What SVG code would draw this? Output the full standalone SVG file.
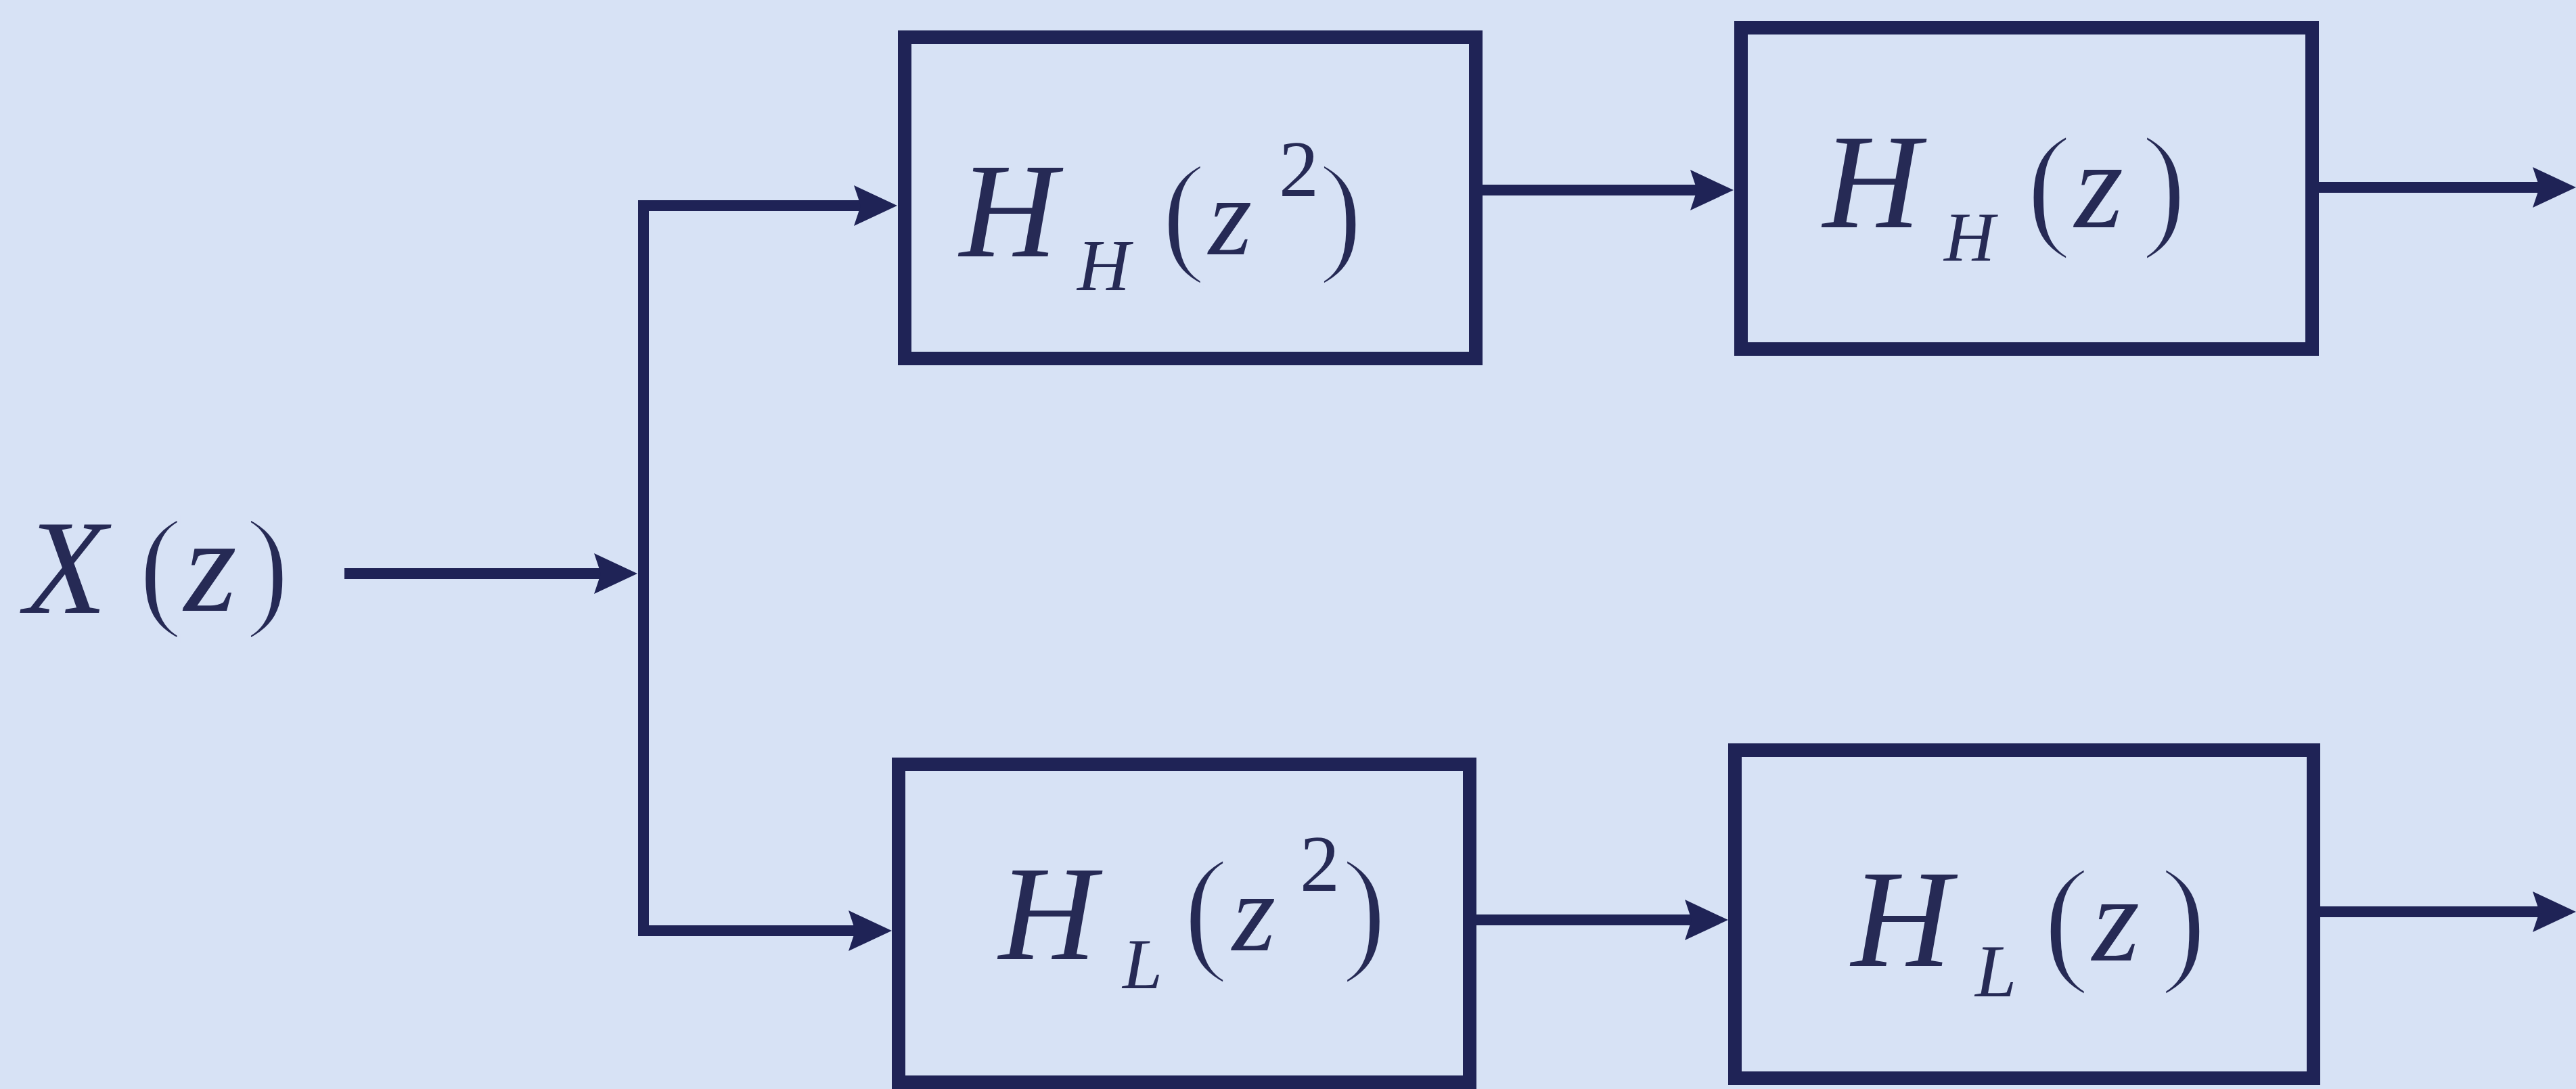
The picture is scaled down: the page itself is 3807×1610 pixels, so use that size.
<svg xmlns="http://www.w3.org/2000/svg" width="3807" height="1610" viewBox="0 0 3807 1610">
<style>
.box{fill:none;stroke:#1f2356;stroke-width:20}
.wire{fill:none;stroke:#1f2356;stroke-width:16}
.it{font-family:"Liberation Serif",serif;font-style:italic;fill:#262a55}
.up{font-family:"Liberation Serif",serif;fill:#262a55}
.par{font-family:"Liberation Serif",serif;fill:#262a55;stroke:#d7e2f5;stroke-width:5}
</style>
<defs>
<marker id="arr" viewBox="0 0 64 64" refX="14" refY="32" markerWidth="64" markerHeight="64" markerUnits="userSpaceOnUse" orient="auto">
<path d="M0,2 L64,32 L0,62 L10,32 Z" fill="#1f2356"/>
</marker>
</defs>
<rect x="0" y="0" width="3807" height="1610" fill="#d7e2f5"/>
<g id="connectors">
<path class="wire" d="M509,848 H892" marker-end="url(#arr)"/>
<path class="wire" d="M951,1384 V304 H1276" marker-end="url(#arr)"/>
<path class="wire" d="M951,1376 H1268" marker-end="url(#arr)"/>
<path class="wire" d="M2190,281 H2512" marker-end="url(#arr)"/>
<path class="wire" d="M2182,1360 H2504" marker-end="url(#arr)"/>
<path class="wire" d="M3427,277 H3757" marker-end="url(#arr)"/>
<path class="wire" d="M3429,1348 H3757" marker-end="url(#arr)"/>
</g>
<g id="input">
<text class="it" x="36" y="906" font-size="200">X</text>
<text class="par" x="204" y="904" font-size="200">(</text>
<text class="it" x="272" y="903" font-size="200">z</text>
<text class="par" x="362" y="904" font-size="200">)</text>
</g>
<g id="HH2">
<rect class="box" x="1337" y="55" width="844" height="475"/>
<text class="it" x="1418" y="379" font-size="200">H</text>
<text class="it" x="1592" y="429" font-size="108">H</text>
<text class="par" x="1716" y="380" font-size="200">(</text>
<text class="it" x="1786" y="376" font-size="165">z</text>
<text class="up" x="1890" y="290" font-size="118">2</text>
<text class="par" x="1948" y="380" font-size="200">)</text>
</g>
<g id="HH">
<rect class="box" x="2573" y="41" width="844" height="475"/>
<text class="it" x="2694" y="336" font-size="200">H</text>
<text class="it" x="2873" y="386" font-size="104">H</text>
<text class="par" x="2994" y="342" font-size="205">(</text>
<text class="it" x="3066" y="336" font-size="185">z</text>
<text class="par" x="3164" y="342" font-size="205">)</text>
</g>
<g id="HL2">
<rect class="box" x="1328" y="1130" width="844" height="470"/>
<text class="it" x="1476" y="1418" font-size="200">H</text>
<text class="it" x="1659" y="1461" font-size="106">L</text>
<text class="par" x="1748" y="1412" font-size="205">(</text>
<text class="it" x="1821" y="1405" font-size="165">z</text>
<text class="up" x="1921" y="1317" font-size="118">2</text>
<text class="par" x="1982" y="1412" font-size="205">)</text>
</g>
<g id="HL">
<rect class="box" x="2564" y="1109" width="855" height="485"/>
<text class="it" x="2736" y="1428" font-size="205">H</text>
<text class="it" x="2919" y="1473" font-size="110">L</text>
<text class="par" x="3019" y="1428" font-size="210">(</text>
<text class="it" x="3092" y="1420" font-size="180">z</text>
<text class="par" x="3192" y="1428" font-size="210">)</text>
</g>
</svg>
